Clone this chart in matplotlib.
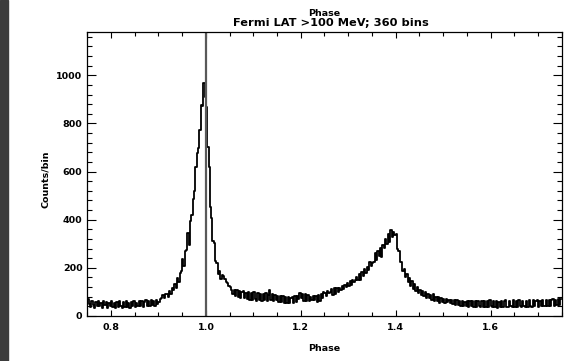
#!/usr/bin/env python
"""Fermi LAT pulse profile (>100 MeV, 360 phase bins), IDL-style plot."""

import matplotlib
matplotlib.use("Agg")
import matplotlib.pyplot as plt  # noqa: E402
import numpy as np  # noqa: E402
from matplotlib.patches import Rectangle  # noqa: E402
from matplotlib.ticker import FormatStrFormatter, MultipleLocator  # noqa: E402

PHASE_START = 0.75
N_BINS = 360

# counts per bin, bins starting at phase 0.75
COUNTS = [
    72, 50, 38, 64, 44, 34, 60, 40, 63, 42,
    56, 33, 62, 44, 58, 35, 54, 40, 64, 37,
    52, 32, 58, 38, 62, 42, 34, 57, 39, 61,
    37, 54, 33, 60, 40, 63, 38, 56, 41, 62,
    42, 64, 39, 58, 67, 42, 62, 40, 68, 45,
    63, 42, 66, 48, 60, 70, 76, 88, 74, 92,
    90, 80, 104, 92, 118, 106, 132, 118, 156, 142,
    180, 188, 238, 208, 272, 276, 344, 296, 394, 418,
    488, 520, 618, 676, 700, 774, 878, 872, 966, 910,
    868, 702, 618, 452, 408, 312, 302, 230, 220, 176,
    188, 154, 172, 166, 154, 140, 136, 124, 122, 110,
    92, 110, 82, 108, 78, 102, 74, 98, 104, 76,
    96, 70, 100, 68, 94, 66, 98, 70, 64, 96,
    68, 92, 62, 90, 66, 94, 64, 88, 108, 65,
    90, 64, 88, 66, 82, 60, 85, 58, 82, 56,
    80, 54, 78, 52, 76, 80, 54, 82, 58, 85,
    70, 94, 76, 90, 64, 90, 62, 86, 64, 80,
    66, 82, 68, 84, 60, 86, 64, 90, 74, 98,
    96, 82, 104, 96, 98, 112, 88, 116, 92, 118,
    98, 116, 110, 124, 114, 130, 120, 138, 126, 144,
    128, 148, 142, 150, 164, 148, 176, 150, 184, 168,
    194, 180, 202, 190, 226, 206, 222, 224, 262, 232,
    270, 248, 284, 246, 296, 284, 318, 300, 340, 306,
    356, 330, 350, 338, 340, 280, 272, 224, 226, 186,
    196, 160, 174, 140, 158, 126, 144, 114, 132, 102,
    120, 94, 110, 86, 102, 84, 98, 76, 92, 74,
    88, 66, 90, 62, 80, 64, 78, 56, 74, 57,
    72, 56, 70, 58, 68, 52, 66, 50, 68, 46,
    66, 44, 64, 42, 63, 40, 60, 42, 62, 38,
    62, 40, 64, 38, 61, 36, 63, 40, 37, 62,
    39, 64, 36, 61, 38, 65, 40, 37, 63, 39,
    62, 35, 60, 38, 64, 37, 61, 66, 39, 36,
    63, 40, 38, 65, 37, 62, 39, 67, 41, 38,
    64, 40, 37, 63, 39, 66, 41, 38, 65, 40,
    63, 68, 39, 64, 41, 67, 42, 40, 66, 43,
    68, 41, 65, 70, 42, 67, 44, 72, 45, 70,
]

MARK_PHASE = 1.0
TITLE_TOP = "Phase"
TITLE = "Fermi LAT >100 MeV; 360 bins"
XLABEL = "Phase"
YLABEL = "Counts/bin"

FONT = dict(family="DejaVu Sans", fontweight="bold")


def main():
    phase = PHASE_START + (np.arange(N_BINS) + 0.5) / N_BINS
    counts = np.array(COUNTS, dtype=float)

    fig = plt.figure(figsize=(5.72, 3.61), dpi=100)
    ax = fig.add_axes([0.1526, 0.1247, 0.8294, 0.7867])

    # dark strip down the left edge of the window
    fig.patches.append(Rectangle((0, 0), 8 / 572, 1, transform=fig.transFigure,
                                 color="#3c3c3c", zorder=-1))

    ax.plot(phase, counts, drawstyle="steps-mid", color="black", lw=1.3)
    ax.axvline(MARK_PHASE, color="0.35", lw=1.6)

    ax.set_xlim(0.75, 1.75)
    ax.set_ylim(0, 1180)
    ax.xaxis.set_major_locator(MultipleLocator(0.2))
    ax.xaxis.set_minor_locator(MultipleLocator(0.05))
    ax.yaxis.set_major_locator(MultipleLocator(200))
    ax.yaxis.set_minor_locator(MultipleLocator(40))
    ax.xaxis.set_major_formatter(FormatStrFormatter("%.1f"))

    for s in ax.spines.values():
        s.set_linewidth(0.9)
    ax.tick_params(axis="both", which="both", direction="in", top=True, right=True,
                   width=0.8, labelsize=6.8)
    ax.tick_params(axis="x", which="major", length=4.2, pad=5)
    ax.tick_params(axis="x", which="minor", length=2.6)
    ax.tick_params(axis="y", which="major", length=6.8, pad=3.5)
    ax.tick_params(axis="y", which="minor", length=3.4)
    for lab in ax.get_xticklabels() + ax.get_yticklabels():
        lab.set_fontweight("bold")

    ax.set_xlabel(XLABEL, fontsize=6.8, **FONT)
    ax.set_ylabel(YLABEL, fontsize=6.8, **FONT)
    ax.xaxis.set_label_coords(0.5, -0.097)
    ax.yaxis.set_label_coords(-0.078, 0.482)

    fig.text(0.567, 1 - 13.5 / 361, TITLE_TOP, ha="center", va="center", fontsize=6.8, **FONT)
    fig.text(0.579, 1 - 22.5 / 361, TITLE, ha="center", va="center", fontsize=8.2, **FONT)

    fig.savefig("out.png", dpi=100)


if __name__ == "__main__":
    main()
